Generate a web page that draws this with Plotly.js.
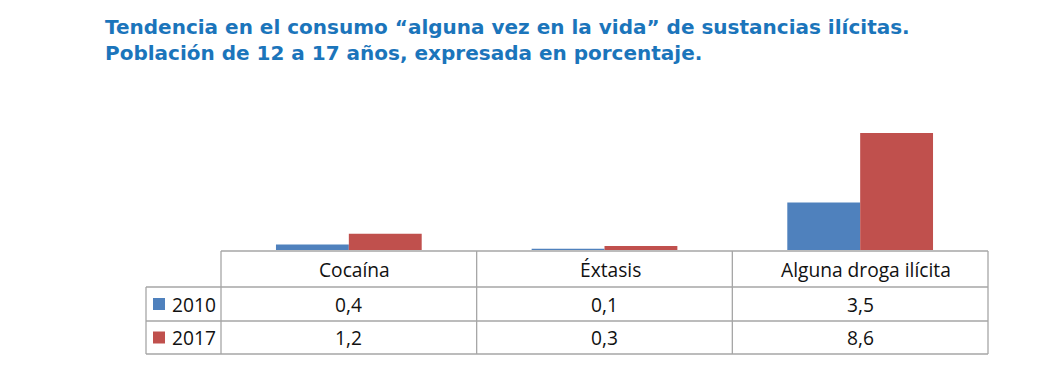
<!DOCTYPE html>
<html>
<head>
<meta charset="utf-8">
<script src="https://cdn.plot.ly/plotly-3.0.1.min.js"></script>
<style>html,body{margin:0;padding:0;background:#fff;}#chart{width:1043px;height:369px;}</style>
</head>
<body>
<div id="chart"></div>
<script>
const categories = ['Cocaína', 'Éxtasis', 'Alguna droga ilícita'];
const years = ['2010', '2017'];
const values2010 = [0.4, 0.1, 3.5];
const values2017 = [1.2, 0.3, 8.6];
const titleLines = [
  'Tendencia en el consumo “alguna vez en la vida” de sustancias ilícitas.',
  'Población de 12 a 17 años, expresada en porcentaje.'
];

const seriesValues = [values2010, values2017];
const seriesColors = ['#4f81bd', '#c0504d'];
const fmt = v => v.toFixed(1).replace('.', ',');

const W = 1043, H = 369;
const L = 221, R = 988, T = 100, B = 250;
const px2x = p => (p - L) / (R - L);
const px2y = p => (B - p) / (B - T);

const traces = years.map((yr, i) => ({
  type: 'bar',
  name: yr,
  x: categories,
  y: seriesValues[i],
  marker: {color: seriesColors[i], line: {width: 0}},
  hoverinfo: 'skip'
}));

const tableFont = {family: '"Open Sans", sans-serif', size: 19.2, color: '#111111'};
const titleFont = {family: '"DejaVu Sans", sans-serif', size: 20, color: '#1b75bb', weight: 'bold'};
const lineStyle = {color: '#a6a6a6', width: 1.3};
const shapes = [];
const annotations = [];

// Title (two lines)
const titleMid = [27, 53];
titleLines.forEach((t, i) => {
  annotations.push({text: t, xref: 'paper', x: px2x(103), yref: 'paper', y: px2y(titleMid[i]),
    xanchor: 'left', yanchor: 'middle', showarrow: false, font: titleFont});
});

// Table grid
const rowY = [251, 287, 321, 354];
shapes.push({type: 'line', xref: 'paper', yref: 'paper', x0: 0, x1: 1, y0: px2y(rowY[0]), y1: px2y(rowY[0]), line: lineStyle});
for (let r = 1; r < rowY.length; r++) {
  shapes.push({type: 'line', xref: 'paper', yref: 'paper', x0: px2x(146), x1: 1, y0: px2y(rowY[r]), y1: px2y(rowY[r]), line: lineStyle});
}
for (let c = 0; c <= categories.length; c++) {
  const xp = c / categories.length;
  shapes.push({type: 'line', xref: 'paper', yref: 'paper', x0: xp, x1: xp, y0: px2y(rowY[0]), y1: px2y(rowY[3]), line: lineStyle});
}
shapes.push({type: 'line', xref: 'paper', yref: 'paper', x0: px2x(146), x1: px2x(146), y0: px2y(rowY[1]), y1: px2y(rowY[3]), line: lineStyle});

// Header
categories.forEach((c, i) => {
  annotations.push({text: c, xref: 'x', x: i, xshift: 6, yref: 'paper', y: px2y((rowY[0] + rowY[1]) / 2),
    xanchor: 'center', yanchor: 'middle', showarrow: false, font: tableFont});
});
// Rows
years.forEach((yr, r) => {
  const cy = (rowY[r + 1] + rowY[r + 2]) / 2;
  shapes.push({type: 'rect', xref: 'paper', yref: 'paper', x0: px2x(153), x1: px2x(165),
    y0: px2y(cy - 6), y1: px2y(cy + 6), fillcolor: seriesColors[r], line: {width: 0}});
  annotations.push({text: yr, xref: 'paper', x: px2x(170), yref: 'paper', y: px2y(cy),
    xanchor: 'left', yanchor: 'middle', showarrow: false, font: tableFont});
  seriesValues[r].forEach((v, i) => {
    annotations.push({text: fmt(v), xref: 'x', x: i, yref: 'paper', y: px2y(cy),
      xanchor: 'center', yanchor: 'middle', showarrow: false, font: tableFont});
  });
});

const layout = {
  width: W, height: H,
  margin: {l: L, r: W - R, t: T, b: H - B, pad: 0},
  paper_bgcolor: '#ffffff', plot_bgcolor: '#ffffff',
  barmode: 'group', bargap: 0.43, bargroupgap: 0,
  showlegend: false,
  xaxis: {showticklabels: false, showgrid: false, zeroline: false, showline: false, ticks: '', fixedrange: true},
  yaxis: {range: [0, 150 / 13.6], showticklabels: false, showgrid: false, zeroline: false, showline: false, ticks: '', fixedrange: true},
  shapes: shapes,
  annotations: annotations
};

Plotly.newPlot('chart', traces, layout, {displayModeBar: false, staticPlot: true});
</script>
</body>
</html>
